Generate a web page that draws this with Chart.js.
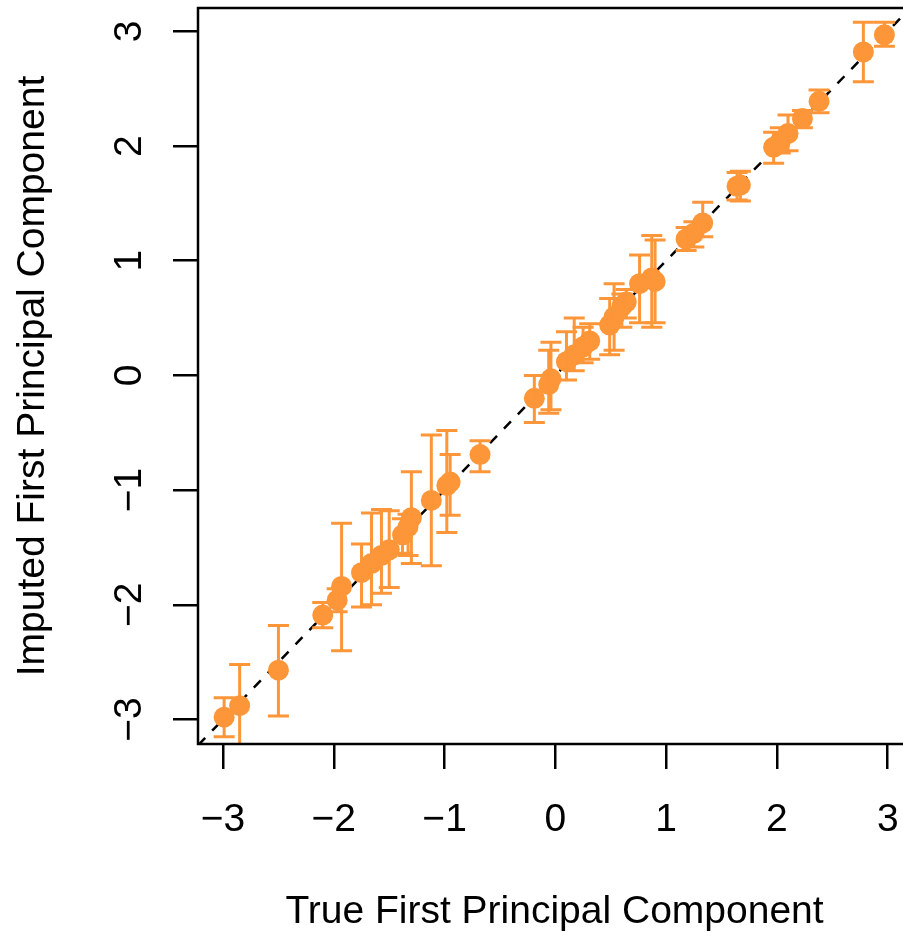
<!DOCTYPE html>
<html>
<head>
<meta charset="utf-8">
<script src="https://cdn.jsdelivr.net/npm/chart.js@4"></script>
<style>
  html, body { margin: 0; padding: 0; background: #fff; overflow: hidden; }
  #wrap { width: 930px; height: 940px; }
</style>
</head>
<body>
<div id="wrap"><canvas id="chart" width="930" height="940"></canvas></div>
<script>
"use strict";

// true vs imputed first principal component, with interval ends
const TRUE_PC = [-2.99, -2.85, -2.50, -2.10, -1.97, -1.93, -1.75, -1.66, -1.57, -1.50, -1.38, -1.33, -1.30, -1.12, -0.98, -0.95, -0.68,
  -0.19, -0.06, -0.04, 0.10, 0.17, 0.25, 0.31, 0.49, 0.53, 0.60, 0.64, 0.76, 0.87, 0.90,
  1.18, 1.25, 1.33, 1.64, 1.67, 1.97, 2.03, 2.10, 2.23, 2.38, 2.78, 2.97];
const IMPUTED_PC = [-2.98, -2.88, -2.57, -2.09, -1.96, -1.84, -1.72, -1.64, -1.57, -1.52, -1.39, -1.32, -1.24, -1.09, -0.96, -0.93, -0.69,
  -0.20, -0.08, -0.03, 0.12, 0.18, 0.25, 0.30, 0.44, 0.51, 0.60, 0.64, 0.80, 0.85, 0.82,
  1.19, 1.24, 1.33, 1.65, 1.66, 1.99, 2.04, 2.11, 2.24, 2.39, 2.82, 2.97];
const LOWER = [-3.15, -3.35, -2.97, -2.20, -2.06, -2.40, -2.02, -2.00, -1.90, -1.85, -1.55, -1.57, -1.64, -1.66, -1.37, -1.22, -0.84,
  -0.41, -0.33, -0.30, -0.04, 0.04, 0.11, 0.14, 0.18, 0.22, 0.42, 0.50, 0.46, 0.42, 0.46,
  1.09, 1.12, 1.21, 1.53, 1.52, 1.85, 1.94, 1.96, 2.16, 2.29, 2.56, 2.87];
const UPPER = [-2.81, -2.52, -2.18, -1.98, -1.86, -1.29, -1.47, -1.20, -1.17, -1.18, -1.25, -1.21, -0.84, -0.52, -0.48, -0.69, -0.57,
  0.00, 0.22, 0.29, 0.38, 0.50, 0.42, 0.45, 0.67, 0.80, 0.71, 0.75, 1.05, 1.22, 1.18,
  1.29, 1.34, 1.51, 1.77, 1.78, 2.12, 2.16, 2.27, 2.31, 2.49, 3.08, 3.08];

const X_TICKS = [-3, -2, -1, 0, 1, 2, 3];
const Y_TICKS = [-3, -2, -1, 0, 1, 2, 3];
const IDENTITY = [-3.6, 3.6];

const X_RANGE = [-3.226, 3.21];
const Y_RANGE = [-3.214, 3.204];

const COLORS = {
  point: "#fd9638",
  ink: "#000000",
};
const FONT = { family: "'Liberation Sans', Arial, Helvetica, sans-serif", size: 39 };
const CAP = 10.5;

function minusLabel(v) {
  return v < 0 ? "\u2212" + Math.abs(v) : String(v);
}

const errorBars = {
  id: "errorBars",
  afterDatasetsDraw(chart) {
    const { ctx, chartArea: a, scales: { x, y } } = chart;
    ctx.save();
    ctx.beginPath();
    ctx.rect(a.left, a.top, a.right - a.left, a.bottom - a.top);
    ctx.clip();
    ctx.strokeStyle = COLORS.point;
    ctx.lineWidth = 3;
    TRUE_PC.forEach((v, i) => {
      const px = x.getPixelForValue(v);
      const lo = y.getPixelForValue(LOWER[i]);
      const hi = y.getPixelForValue(UPPER[i]);
      ctx.beginPath();
      ctx.moveTo(px, lo); ctx.lineTo(px, hi);
      ctx.moveTo(px - CAP, lo); ctx.lineTo(px + CAP, lo);
      ctx.moveTo(px - CAP, hi); ctx.lineTo(px + CAP, hi);
      ctx.stroke();
    });
    ctx.restore();
  },
};

const frame = {
  id: "frame",
  afterDraw(chart) {
    const { ctx, chartArea: a } = chart;
    ctx.save();
    ctx.strokeStyle = COLORS.ink;
    ctx.lineWidth = 2.5;
    ctx.strokeRect(a.left, a.top, a.right - a.left, a.bottom - a.top);
    ctx.restore();
  },
};

function axisGrid() {
  return {
    drawOnChartArea: false,
    drawTicks: true,
    tickLength: 25,
    color: COLORS.ink,
    lineWidth: 2.5,
    tickWidth: 2.5,
  };
}

new Chart(document.getElementById("chart"), {
  data: {
    datasets: [
      {
        type: "scatter",
        data: TRUE_PC.map((v, i) => ({ x: v, y: IMPUTED_PC[i] })),
        backgroundColor: COLORS.point,
        borderWidth: 0,
        pointRadius: 10.5,
        pointHoverRadius: 10.5,
        order: 1,
      },
      {
        type: "line",
        data: IDENTITY.map(v => ({ x: v, y: v })),
        borderColor: COLORS.ink,
        borderWidth: 2.5,
        borderDash: [10, 10],
        pointRadius: 0,
        order: 2,
      },
    ],
  },
  options: {
    responsive: false,
    animation: false,
    events: [],
    layout: { autoPadding: false, padding: { left: 0, top: 8, right: 19, bottom: 0 } },
    plugins: { legend: { display: false }, tooltip: { enabled: false } },
    scales: {
      x: {
        type: "linear",
        min: X_RANGE[0],
        max: X_RANGE[1],
        afterBuildTicks: s => { s.ticks = X_TICKS.map(value => ({ value })); },
        afterFit: s => { s.height = 196; s.paddingLeft = 0; s.paddingRight = 0; s.paddingTop = 0; s.paddingBottom = 0; },
        grid: axisGrid(),
        border: { display: false },
        ticks: { callback: minusLabel, font: FONT, color: COLORS.ink, padding: 28, maxRotation: 0, autoSkip: false },
        title: { display: true, text: "True First Principal Component", font: FONT, color: COLORS.ink, padding: { top: 0, bottom: 4 } },
      },
      y: {
        type: "linear",
        min: Y_RANGE[0],
        max: Y_RANGE[1],
        afterBuildTicks: s => { s.ticks = Y_TICKS.map(value => ({ value })); },
        afterFit: s => { s.width = 198; s.paddingTop = 0; s.paddingBottom = 0; s.paddingLeft = 0; s.paddingRight = 0; },
        grid: axisGrid(),
        border: { display: false },
        ticks: { callback: minusLabel, font: FONT, color: COLORS.ink, padding: 21, minRotation: 90, maxRotation: 90, crossAlign: "center", autoSkip: false },
        title: { display: true, text: "Imputed First Principal Component", font: FONT, color: COLORS.ink, padding: { top: 10, bottom: 0 } },
      },
    },
  },
  plugins: [errorBars, frame],
});
</script>
</body>
</html>
